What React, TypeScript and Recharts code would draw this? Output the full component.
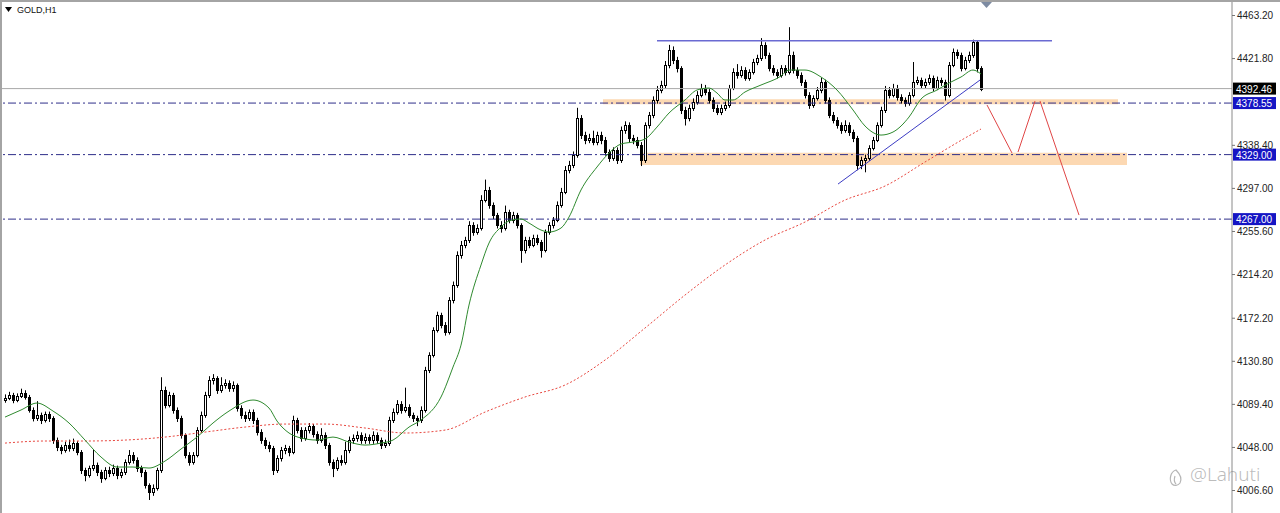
import { ComposedChart, Bar, Line, XAxis, YAxis, ReferenceLine, ReferenceArea } from "recharts";

// GOLD H1 candles, oldest first; open of each candle = close of the one before
const firstOpen = 4093.0;

const closes = [
  4095.0, 4097.9, 4093.1, 4096.9, 4099.8, 4096.0, 4083.5, 4075.8, 4078.7, 4073.9,
  4079.6, 4075.8, 4054.6, 4047.9, 4045.0, 4049.8, 4046.9, 4051.7, 4043.1, 4025.8,
  4021.0, 4027.7, 4030.6, 4023.9, 4018.1, 4025.8, 4022.9, 4027.7, 4021.0, 4023.9,
  4033.5, 4040.2, 4035.4, 4027.7, 4023.9, 4011.4, 4004.6, 4008.5, 4025.8, 4102.7,
  4088.3, 4097.9, 4083.5, 4075.8, 4059.4, 4040.2, 4033.5, 4040.2, 4064.2, 4078.7,
  4097.9, 4112.3, 4114.2, 4102.7, 4107.5, 4109.4, 4104.6, 4107.5, 4085.4, 4078.7,
  4075.8, 4081.5, 4073.9, 4062.3, 4054.6, 4049.8, 4046.9, 4025.8, 4037.3, 4045.0,
  4046.9, 4043.1, 4073.9, 4064.2, 4056.6, 4064.2, 4068.1, 4060.4, 4054.6, 4059.4,
  4049.8, 4033.5, 4027.7, 4035.4, 4033.5, 4045.0, 4054.6, 4056.6, 4059.4, 4054.6,
  4057.5, 4054.6, 4059.4, 4054.6, 4049.8, 4051.7, 4073.9, 4081.5, 4089.2, 4083.5,
  4086.3, 4078.7, 4075.8, 4073.9, 4083.5, 4121.9, 4136.3, 4160.4, 4174.8, 4165.2,
  4158.4, 4189.2, 4203.6, 4232.5, 4242.1, 4246.9, 4261.3, 4254.6, 4258.4, 4285.3,
  4295.0, 4280.5, 4270.9, 4261.3, 4258.4, 4273.8, 4266.1, 4270.9, 4261.3, 4237.3,
  4246.9, 4242.1, 4248.8, 4245.0, 4237.3, 4254.6, 4261.3, 4266.1, 4280.5, 4293.0,
  4314.2, 4319.0, 4328.6, 4364.2, 4347.8, 4343.0, 4344.9, 4341.1, 4347.8, 4343.0,
  4331.5, 4325.7, 4333.4, 4323.8, 4352.6, 4357.4, 4344.9, 4343.0, 4338.2, 4323.8,
  4357.4, 4367.1, 4381.5, 4391.1, 4395.9, 4415.1, 4429.5, 4419.9, 4412.2, 4371.9,
  4364.2, 4373.8, 4379.5, 4386.3, 4393.0, 4389.2, 4381.5, 4373.8, 4369.9, 4373.8,
  4376.7, 4393.0, 4408.4, 4405.5, 4410.3, 4402.6, 4408.4, 4418.0, 4421.8, 4434.3,
  4424.7, 4412.2, 4408.4, 4405.5, 4412.2, 4408.4, 4424.7, 4410.3, 4405.5, 4398.8,
  4386.3, 4376.7, 4383.4, 4391.1, 4398.8, 4381.5, 4367.1, 4362.2, 4357.4, 4352.6,
  4357.4, 4350.7, 4344.9, 4319.0, 4323.8, 4325.7, 4335.3, 4343.0, 4357.4, 4371.9,
  4391.1, 4386.3, 4393.0, 4384.4, 4381.5, 4378.6, 4386.3, 4398.8, 4400.7, 4395.9,
  4398.8, 4402.6, 4393.0, 4400.7, 4398.8, 4386.3, 4415.1, 4427.6, 4424.7, 4412.2,
  4419.9, 4424.7, 4437.2, 4412.2, 4392.46,
];

const highs = [
  4098.5, 4101.0, 4100.0, 4099.5, 4104.0, 4102.5, 4098.0, 4086.0, 4092.0, 4081.0,
  4082.0, 4082.0, 4077.5, 4057.0, 4050.0, 4053.0, 4055.0, 4056.0, 4053.5, 4045.0,
  4028.0, 4030.0, 4046.0, 4033.0, 4026.0, 4028.5, 4029.0, 4031.0, 4030.0, 4027.0,
  4036.0, 4045.0, 4043.0, 4038.0, 4030.0, 4026.0, 4013.0, 4012.0, 4028.0, 4115.0,
  4106.0, 4101.0, 4100.0, 4086.0, 4078.0, 4061.0, 4043.0, 4043.0, 4067.0, 4082.0,
  4101.0, 4116.0, 4118.0, 4116.0, 4115.0, 4113.0, 4112.0, 4111.0, 4109.0, 4088.0,
  4082.0, 4084.0, 4084.0, 4076.0, 4065.0, 4057.0, 4053.0, 4049.0, 4040.0, 4048.0,
  4050.0, 4049.0, 4078.0, 4076.0, 4067.0, 4067.0, 4071.0, 4070.0, 4063.0, 4066.0,
  4062.0, 4052.0, 4036.0, 4038.0, 4040.0, 4053.0, 4058.0, 4060.0, 4063.0, 4062.0,
  4061.0, 4060.0, 4063.0, 4062.0, 4057.0, 4055.0, 4077.0, 4085.0, 4093.0, 4092.0,
  4105.0, 4089.0, 4081.0, 4078.0, 4087.0, 4125.0, 4139.0, 4163.0, 4178.0, 4177.0,
  4168.0, 4192.0, 4207.0, 4236.0, 4246.0, 4250.0, 4265.0, 4264.0, 4262.0, 4290.0,
  4305.0, 4298.0, 4283.0, 4273.0, 4265.0, 4280.0, 4276.0, 4274.0, 4273.0, 4263.0,
  4250.0, 4250.0, 4252.0, 4252.0, 4247.0, 4257.0, 4264.0, 4269.0, 4284.0, 4297.0,
  4318.0, 4323.0, 4332.0, 4374.0, 4367.0, 4351.0, 4349.0, 4352.0, 4351.0, 4351.0,
  4346.0, 4334.0, 4336.0, 4336.0, 4356.0, 4361.0, 4360.0, 4348.0, 4346.0, 4341.0,
  4360.0, 4370.0, 4385.0, 4395.0, 4400.0, 4419.0, 4434.5, 4433.0, 4423.0, 4414.0,
  4375.0, 4377.0, 4383.0, 4390.0, 4397.0, 4396.0, 4392.0, 4384.0, 4377.0, 4377.0,
  4380.0, 4396.0, 4412.0, 4416.0, 4414.0, 4413.0, 4411.0, 4421.0, 4425.0, 4441.0,
  4437.0, 4427.0, 4415.0, 4411.0, 4415.0, 4415.0, 4451.5, 4428.0, 4413.0, 4408.0,
  4401.0, 4389.0, 4386.0, 4394.0, 4403.0, 4401.0, 4384.0, 4370.0, 4365.0, 4360.0,
  4362.0, 4360.0, 4353.0, 4347.0, 4327.0, 4329.0, 4338.0, 4346.0, 4360.0, 4375.0,
  4395.0, 4394.0, 4397.0, 4396.0, 4387.0, 4384.0, 4389.0, 4418.0, 4404.0, 4403.0,
  4402.0, 4406.0, 4405.0, 4404.0, 4403.0, 4401.0, 4418.0, 4431.0, 4430.0, 4427.0,
  4423.0, 4428.0, 4439.5, 4439.0, 4414.0,
];

const lows = [
  4090.5, 4093.0, 4090.0, 4091.0, 4095.0, 4093.5, 4081.0, 4072.5, 4073.0, 4070.0,
  4071.5, 4072.0, 4051.0, 4044.0, 4041.0, 4042.5, 4043.5, 4044.0, 4040.0, 4022.0,
  4015.0, 4018.5, 4025.0, 4020.0, 4013.5, 4016.0, 4019.0, 4020.0, 4017.0, 4018.0,
  4021.0, 4031.0, 4032.0, 4024.0, 4019.0, 4008.0, 3997.0, 4001.0, 4006.0, 4023.0,
  4085.0, 4086.0, 4080.0, 4072.0, 4056.0, 4037.0, 4030.0, 4031.0, 4038.0, 4062.0,
  4076.0, 4095.0, 4108.0, 4099.0, 4100.0, 4104.0, 4101.0, 4101.0, 4082.0, 4075.0,
  4072.0, 4073.0, 4070.0, 4059.0, 4051.0, 4046.0, 4043.0, 4021.0, 4023.0, 4034.0,
  4041.0, 4039.0, 4041.0, 4061.0, 4053.0, 4054.0, 4061.0, 4057.0, 4051.0, 4052.0,
  4046.0, 4030.0, 4019.0, 4025.0, 4030.0, 4031.0, 4042.0, 4051.0, 4053.0, 4051.0,
  4051.0, 4051.0, 4051.0, 4051.0, 4046.0, 4047.0, 4049.0, 4071.0, 4079.0, 4080.0,
  4081.0, 4076.0, 4072.0, 4068.0, 4071.0, 4081.0, 4119.0, 4134.0, 4158.0, 4162.0,
  4155.0, 4156.0, 4186.0, 4201.0, 4229.0, 4239.0, 4244.0, 4251.0, 4252.0, 4256.0,
  4283.0, 4277.0, 4267.0, 4258.0, 4254.0, 4256.0, 4263.0, 4263.0, 4258.0, 4225.0,
  4234.0, 4239.0, 4240.0, 4242.0, 4230.0, 4235.0, 4252.0, 4258.0, 4264.0, 4278.0,
  4291.0, 4311.0, 4316.0, 4326.0, 4344.0, 4339.0, 4340.0, 4338.0, 4338.0, 4339.0,
  4328.0, 4322.0, 4323.0, 4320.0, 4321.0, 4349.0, 4341.0, 4339.0, 4335.0, 4318.0,
  4321.0, 4354.0, 4364.0, 4378.0, 4388.0, 4393.0, 4412.0, 4416.0, 4408.0, 4368.0,
  4357.0, 4361.0, 4371.0, 4377.0, 4384.0, 4386.0, 4378.0, 4370.0, 4367.0, 4367.0,
  4371.0, 4374.0, 4391.0, 4402.0, 4403.0, 4400.0, 4400.0, 4406.0, 4415.0, 4419.0,
  4421.0, 4409.0, 4405.0, 4402.0, 4403.0, 4405.0, 4406.0, 4407.0, 4402.0, 4395.0,
  4383.0, 4373.0, 4374.0, 4381.0, 4388.0, 4378.0, 4364.0, 4359.0, 4354.0, 4349.0,
  4350.0, 4347.0, 4341.0, 4314.0, 4315.0, 4312.0, 4323.0, 4333.0, 4341.0, 4355.0,
  4369.0, 4383.0, 4384.0, 4381.0, 4378.0, 4375.0, 4376.0, 4384.0, 4396.0, 4393.0,
  4393.0, 4396.0, 4390.0, 4391.0, 4395.0, 4381.0, 4384.0, 4413.0, 4421.0, 4409.0,
  4410.0, 4417.0, 4422.0, 4408.0, 4390.0,
];

// moving averages: [candle index, price]
const fastMa = [
  [0, 4076.7], [4, 4083.5], [8, 4090.2], [12, 4082.5], [16, 4071.0], [20, 4054.6],
  [24, 4038.3], [28, 4028.7], [32, 4028.7], [36, 4027.7], [40, 4034.4], [44, 4046.0],
  [48, 4057.5], [52, 4071.0], [56, 4082.5], [62, 4093.1], [66, 4085.4], [68, 4072.9],
  [71, 4061.4], [74, 4056.6], [78, 4054.6], [82, 4057.5], [86, 4052.7], [90, 4049.8],
  [94, 4051.7], [97, 4054.6], [101, 4067.1], [104, 4073.9], [109, 4096.0], [112, 4124.8],
  [114, 4145.9], [116, 4184.4], [119, 4222.9], [121, 4244.0], [124, 4259.4], [126, 4265.2],
  [129, 4267.1], [131, 4263.2], [134, 4256.5], [136, 4254.6], [139, 4258.4], [141, 4269.0],
  [144, 4295.0], [148, 4317.1], [151, 4330.5], [154, 4339.2], [157, 4341.1], [160, 4344.0],
  [163, 4355.5], [166, 4369.0], [170, 4381.5], [173, 4391.1], [176, 4393.0], [178, 4388.2],
  [180, 4381.5], [182, 4381.5], [185, 4389.2], [189, 4395.9], [194, 4404.5], [196, 4410.3],
  [200, 4410.3], [204, 4403.6], [208, 4391.1], [212, 4371.9], [215, 4356.5], [219, 4347.8],
  [222, 4350.7], [226, 4365.1], [229, 4382.4], [233, 4391.1], [236, 4397.8], [239, 4403.6],
  [242, 4410.3], [244, 4406.5],
];

const slowMa = [
  [0, 4051.7], [10, 4053.7], [20, 4053.7], [30, 4054.6], [40, 4057.5], [50, 4062.3],
  [60, 4067.1], [70, 4070.0], [80, 4070.0], [90, 4066.2], [100, 4061.4], [110, 4064.2],
  [120, 4081.5], [130, 4096.0], [140, 4107.5], [150, 4131.5], [160, 4162.3], [170, 4194.0],
  [180, 4222.9], [190, 4246.9], [200, 4264.2], [210, 4285.3], [220, 4298.8], [230, 4321.9],
  [240, 4344.9], [244, 4353.6],
];

const yTicks = [4463.2, 4421.8, 4338.4, 4297.0, 4255.6, 4214.2, 4172.2, 4130.8, 4089.4, 4048.0, 4006.6];
const lastPrice = 4392.46;
const levels = [4378.55, 4329.0, 4267.0];

// drawn objects, in candle index / price
const zones = [
  { x1: 149.5, x2: 278.25, y1: 4377.3, y2: 4382.3 },
  { x1: 158.75, x2: 280.5, y1: 4319.0, y2: 4330.8 },
];
const resistance = [[163, 4438.5], [261.75, 4438.5]];
const trendLine = [[208.25, 4300.7], [243.75, 4400.7]];
const projection = [
  [[245.5, 4376.7], [251.75, 4330.5]],
  [[253.25, 4331.5], [257.5, 4380.5]],
  [[258.75, 4380.5], [268.5, 4270.9]],
];

const candles = closes.map((c, i) => {
  const o = i === 0 ? firstOpen : closes[i - 1];
  return { i, o, c, h: highs[i], l: lows[i], range: [lows[i], highs[i]] };
});
const fastData = fastMa.map(([i, v]) => ({ i, v }));
const slowData = slowMa.map(([i, v]) => ({ i, v }));

const font = "'Liberation Sans', Arial, sans-serif";

const Candle = (props: any) => {
  const { x, y, width, height, payload } = props;
  if (!payload) return null;
  const { o, c, h, l } = payload;
  const top = Math.min(y, y + height);
  const hgt = Math.abs(height);
  const cx = Math.round(x + width / 2);
  const span = h - l || 1;
  const py = (v: number) => top + ((h - v) / span) * hgt;
  const bTop = Math.round(py(Math.max(o, c)));
  const bBot = Math.round(py(Math.min(o, c)));
  const bull = c >= o;
  return (
    <g>
      <line x1={cx + 0.5} x2={cx + 0.5} y1={top} y2={top + hgt} stroke="#000" strokeWidth={1} />
      <rect
        x={cx - 0.5}
        y={bTop + 0.5}
        width={2}
        height={Math.max(bBot - bTop, 1)}
        fill={bull ? "#ffffff" : "#000000"}
        stroke="#000"
        strokeWidth={1}
      />
    </g>
  );
};

const PriceTick = ({ x, y, payload }: any) => (
  <g>
    <line x1={x} x2={x + 3} y1={y + 0.5} y2={y + 0.5} stroke="#777" />
    <text x={x + 5} y={y + 4} fontSize={10} fontFamily={font} fill="#222">
      {Number(payload.value).toFixed(2)}
    </text>
  </g>
);

const PriceTag = ({ viewBox, text, bg }: any) => {
  if (!viewBox) return null;
  const x = viewBox.x + viewBox.width + 1;
  const y = viewBox.y;
  return (
    <g>
      <rect x={x} y={y - 6} width={43} height={12} fill={bg} />
      <text x={x + 3} y={y + 4} fontSize={10} fontFamily={font} fill="#fff">
        {text}
      </text>
    </g>
  );
};

export default function App() {
  return (
    <div
      style={{
        position: "absolute",
        left: 0,
        top: 0,
        width: 1280,
        height: 513,
        overflow: "hidden",
        background: "#fff",
      }}
    >
      <ComposedChart
        width={1280}
        height={513}
        data={candles}
        margin={{ top: 2, right: 0, bottom: 0, left: 2 }}
      >
        <XAxis dataKey="i" type="number" domain={[-0.75, 306.75]} allowDataOverflow hide />
        <YAxis
          orientation="right"
          type="number"
          width={48}
          domain={[3984.5, 4475.7]}
          allowDataOverflow
          ticks={yTicks}
          interval={0}
          tickSize={0}
          tickMargin={0}
          tickLine={false}
          axisLine={{ stroke: "#8a8a8a" }}
          tick={<PriceTick />}
        />

        {zones.map((z, k) => (
          <ReferenceArea
            key={"z" + k}
            x1={z.x1}
            x2={z.x2}
            y1={z.y1}
            y2={z.y2}
            fill="#fcd8b2"
            fillOpacity={1}
            stroke="none"
          />
        ))}

        <ReferenceLine
          y={lastPrice}
          stroke="#a8a8a8"
          strokeWidth={1}
          label={<PriceTag text={lastPrice.toFixed(2)} bg="#000000" />}
        />
        {levels.map((v) => (
          <ReferenceLine
            key={v}
            y={v}
            stroke="#2e2e8a"
            strokeWidth={1}
            strokeDasharray="8 3 2 3"
            label={<PriceTag text={v.toFixed(2)} bg="#1515c4" />}
          />
        ))}

        <Line
          data={slowData}
          dataKey="v"
          type="monotone"
          stroke="#e8473f"
          strokeWidth={1}
          strokeDasharray="2 2"
          dot={false}
          isAnimationActive={false}
        />
        <Line
          data={fastData}
          dataKey="v"
          type="monotone"
          stroke="#2f8a2f"
          strokeWidth={1}
          dot={false}
          isAnimationActive={false}
        />

        <Bar dataKey="range" barSize={3} shape={<Candle />} isAnimationActive={false} />

        <ReferenceLine
          segment={resistance.map(([x, y]) => ({ x, y }))}
          stroke="#6a6ad2"
          strokeWidth={1.5}
        />
        <ReferenceLine
          segment={trendLine.map(([x, y]) => ({ x, y }))}
          stroke="#3c3cc4"
          strokeWidth={1}
        />
        {projection.map((seg, k) => (
          <ReferenceLine
            key={"p" + k}
            segment={seg.map(([x, y]) => ({ x, y }))}
            stroke="#e04646"
            strokeWidth={1}
          />
        ))}
      </ComposedChart>

      {/* window frame */}
      <div style={{ position: "absolute", left: 0, top: 0, width: 2, height: 513, background: "#a4a4a4" }} />
      <div style={{ position: "absolute", left: 0, top: 0, width: 1280, height: 2, background: "#a4a4a4" }} />

      {/* symbol caption */}
      <svg style={{ position: "absolute", left: 5, top: 7 }} width={8} height={6}>
        <path d="M0 0 L7 0 L3.5 5 Z" fill="#000" />
      </svg>
      <div
        style={{
          position: "absolute",
          left: 17,
          top: 5,
          fontFamily: font,
          fontSize: 9,
          color: "#111",
          lineHeight: "11px",
        }}
      >
        GOLD,H1
      </div>

      {/* chart shift marker */}
      <svg style={{ position: "absolute", left: 981, top: 2 }} width={12} height={7}>
        <path d="M0 0 L11 0 L5.5 6 Z" fill="#7d8ba2" />
      </svg>

      {/* watermark */}
      <svg style={{ position: "absolute", left: 1166, top: 468 }} width={20} height={20}>
        <path
          d="M10 2 C4 4 3 12 6 16 C8 18 12 18 14 15 C16 11 14 6 10 2 Z M9 8 C8 11 8 14 10 16"
          fill="none"
          stroke="rgba(120,120,120,0.55)"
          strokeWidth={1.2}
        />
      </svg>
      <div
        style={{
          position: "absolute",
          left: 1190,
          top: 465,
          fontFamily: "'Noto Sans', sans-serif",
          fontSize: 19,
          lineHeight: "18px",
          fontWeight: 300,
          color: "rgba(130,130,130,0.55)",
          whiteSpace: "nowrap",
        }}
      >
        @Lahuti
      </div>
    </div>
  );
}
